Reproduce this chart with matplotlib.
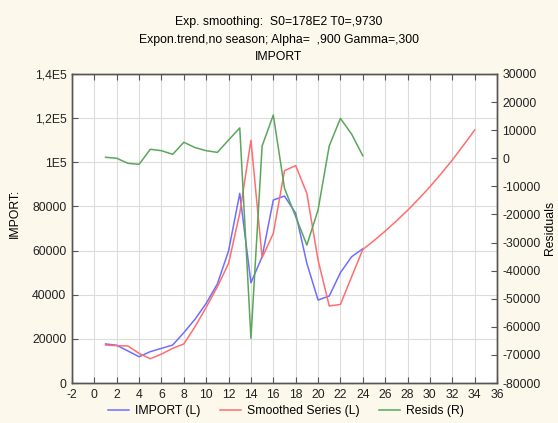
import matplotlib.pyplot as plt
from matplotlib.ticker import FixedLocator, FixedFormatter

plt.rcParams['font.family'] = ['Liberation Sans', 'DejaVu Sans']
plt.rcParams['axes.unicode_minus'] = False

# data
t_import = list(range(1, 25))
import_vals = [17700, 17100, 14500, 11900, 14200, 15700, 17200, 22800, 28900, 36100,
               44900, 59900, 85900, 45400, 57200, 82900, 84700, 76900, 54200, 37600,
               39400, 50000, 57200, 60800]

t_smooth = list(range(1, 35))
smooth_vals = [17200, 16900, 16800, 13400, 11000, 13100, 15700, 17700, 25500, 34300,
               43600, 54200, 76900, 110000, 56800, 67800, 96200, 98500, 85900, 55700,
               34900, 35600, 48100, 60500, 64500, 68800, 73400, 78200, 83400, 88900,
               94800, 101000, 107700, 114600]

t_resid = list(range(1, 25))
resid_vals = [350, 0, -1800, -2150, 3200, 2700, 1400, 5700, 3800, 2700,
              2100, 6500, 10800, -64100, 4400, 15400, -10700, -20800, -30900, -18400,
              4400, 14200, 8600, 900]

x_ticks = list(range(-2, 37, 2))
left_ticks = [0, 20000, 40000, 60000, 80000, 100000, 120000, 140000]
left_labels = ['0', '20000', '40000', '60000', '80000', '1E5', '1,2E5', '1,4E5']
right_ticks = list(range(-80000, 30001, 10000))

fs = 8.8
bg = '#fdf8ec'
fig = plt.figure(figsize=(5.58, 4.23), dpi=100, facecolor=bg)
ax = fig.add_axes([72/558, 40/423, 425/558, 309/423])
ax.set_facecolor('white')
ax2 = ax.twinx()

l1, = ax.plot(t_import, import_vals, color='#6e6eff', lw=1.1, label='IMPORT (L)')
l2, = ax.plot(t_smooth, smooth_vals, color='#ff6e6e', lw=1.1, label='Smoothed Series (L)')
l3, = ax2.plot(t_resid, resid_vals, color='#5aa65a', lw=1.1, label='Resids (R)')

ax.set_xlim(-2, 36)
ax.set_ylim(0, 140000)
ax2.set_ylim(-80000, 30000)
ax.set_xticks(x_ticks)
ax.yaxis.set_major_locator(FixedLocator(left_ticks))
ax.yaxis.set_major_formatter(FixedFormatter(left_labels))
ax2.set_yticks(right_ticks)
ax2.set_yticklabels([str(v) for v in right_ticks])

ax.grid(True, color='#dcdcdc', lw=0.8)
ax.set_axisbelow(True)
for a in (ax, ax2):
    for s in a.spines.values():
        s.set_color('#555555')
        s.set_linewidth(1.0)
    a.tick_params(labelsize=fs, colors='#555555', labelcolor='#222222', length=4,
                  direction='in', width=0.8, pad=4)
ax.tick_params(axis='x', top=True, direction='in')

ax.set_ylabel('IMPORT:', fontsize=fs)
ax.yaxis.set_label_coords(-0.12, 0.55)
fig.text(550/558, 1 - 228/423, 'Residuals', rotation=90, ha='center', va='center', fontsize=fs)

fig.text(0.5, 1 - 22/423, 'Exp. smoothing:  S0=178E2 T0=,9730', ha='center', va='center', fontsize=fs)
fig.text(0.5, 1 - 40/423, 'Expon.trend,no season; Alpha=  ,900 Gamma=,300', ha='center', va='center', fontsize=fs)
fig.text(0.5, 1 - 57/423, 'IMPORT', ha='center', va='center', fontsize=fs)

fig.legend(handles=[l1, l2, l3], loc='center', bbox_to_anchor=(286/558, 1 - 411/423),
           ncol=3, frameon=False, fontsize=fs, handlelength=1.7, columnspacing=1.6,
           handletextpad=0.5)

fig.savefig('out.png', dpi=100, facecolor=bg)
